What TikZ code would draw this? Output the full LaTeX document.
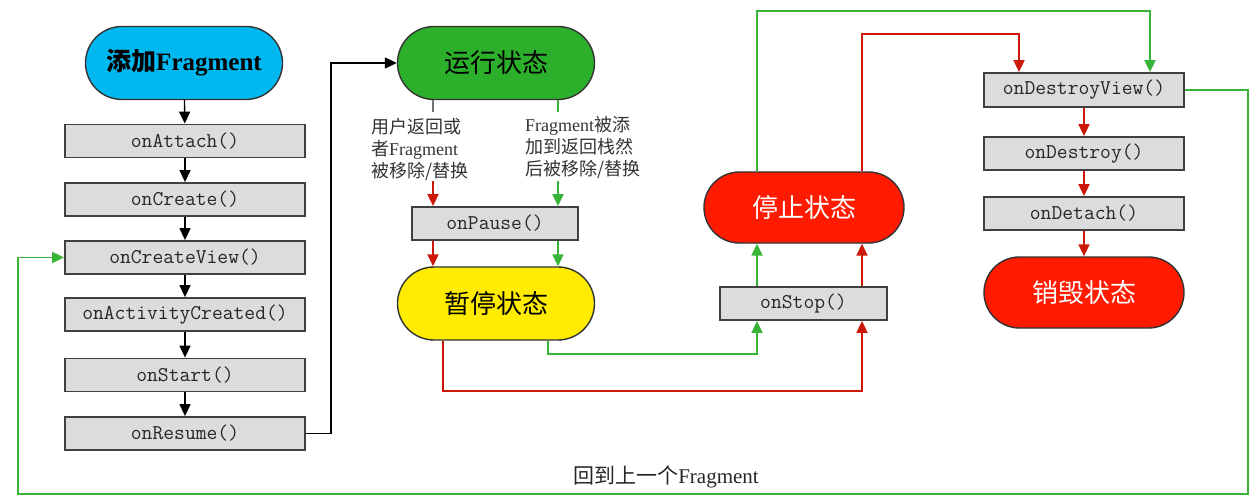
\documentclass[tikz,border=0pt]{standalone}
\usepackage{fontspec}
\setmainfont{Liberation Serif}
\newfontfamily\cjk{Noto Sans CJK SC}
\usetikzlibrary{arrows.meta,shapes.misc}

\definecolor{addblue}{RGB}{0,184,240}
\definecolor{rungreen}{RGB}{44,176,44}
\definecolor{pauseyellow}{RGB}{255,236,0}
\definecolor{stopred}{RGB}{255,26,0}
\definecolor{linered}{RGB}{204,24,8}
\definecolor{linegreen}{RGB}{56,180,56}
\definecolor{boxgray}{RGB}{220,220,220}

\tikzset{
  state/.style={rounded rectangle, draw=black!80, line width=1.4pt, minimum width=197pt, minimum height=73pt, inner sep=0pt, font=\fontsize{26}{30}\selectfont\cjk},
  method/.style={rectangle, draw=black!75, line width=1.8pt, fill=boxgray, minimum width=240pt, minimum height=33pt, inner sep=0pt, text=black!85, font=\ttfamily\fontsize{21}{24}\selectfont},
  note/.style={align=left, inner sep=0pt, text=black!80, font=\fontsize{18}{22}\selectfont},
  blackline/.style={draw=black, line width=1.4pt, ->},
  redline/.style={draw=linered, line width=1.9pt, ->},
  greenline/.style={draw=linegreen, line width=1.9pt, ->},
}

\begin{document}
\begin{tikzpicture}[x=1pt, y=-1pt, >={Triangle[length=12pt,width=11pt]}]
  \useasboundingbox (0,0) rectangle (1259,500);

  % adding the fragment
  \node[state, fill=addblue, font=\fontsize{25}{30}\selectfont\bfseries] (add) at (184,63) {{\cjk 添加}Fragment};
  \foreach \n/\y/\txt in {attach/141/onAttach(), create/199.5/onCreate(), createview/257.5/onCreateView(), activity/314.5/onActivityCreated(), start/375/onStart(), resume/433.5/onResume()}
    \node[method] (\n) at (185,\y) {\txt};
  \foreach \a/\b in {add/attach, attach/create, create/createview, createview/activity, activity/start, start/resume}
    \draw[blackline] (\a) -- (\b);

  % running and paused
  \node[state, fill=rungreen] (run) at (496,63) {运行状态};
  \node[method, minimum width=166pt] (pause) at (495,223.5) {onPause()};
  \node[state, fill=pauseyellow] (paused) at (496,303.5) {暂停状态};
  \draw[blackline] (resume.east) -- ++(25,0) |- (run.west);

  \node[note, anchor=north west] (leftnote) at (371,118) {{\cjk 用户返回或}\\{\cjk 者}Fragment\\{\cjk 被移除/替换}};
  \node[note, anchor=north west] (rightnote) at (525,116) {Fragment{\cjk 被添}\\{\cjk 加到返回栈然}\\{\cjk 后被移除/替换}};

  \draw[draw=black!55, line width=1.9pt] ([xshift=-63pt]run.south) -- ++(0,12);
  \draw[draw=linegreen, line width=1.9pt] ([xshift=62pt]run.south) -- ++(0,12);
  \draw[redline] ([xshift=-62pt]pause.north) ++(0,-25) -- ([xshift=-62pt]pause.north);
  \draw[greenline] ([xshift=63pt]pause.north) ++(0,-25) -- ([xshift=63pt]pause.north);
  \draw[redline] ([xshift=-62pt]pause.south) -- ([xshift=-62pt]pause.south |- paused.north);
  \draw[greenline] ([xshift=63pt]pause.south) -- ([xshift=63pt]pause.south |- paused.north);

  % stopped
  \node[method, minimum width=167pt] (stop) at (803.5,303.5) {onStop()};
  \node[state, fill=stopred, text=white, minimum width=200pt, minimum height=71pt] (stopped) at (804,207.5) {停止状态};
  \draw[redline] ([xshift=-53pt]paused.south) -- ++(0,50) -| ([xshift=58.5pt]stop.south);
  \draw[greenline] ([xshift=52pt]paused.south) -- ++(0,13) -| ([xshift=-46.5pt]stop.south);
  \draw[greenline] ([xshift=-46.5pt]stop.north) -- ([xshift=-46.5pt]stop.north |- stopped.south);
  \draw[redline] ([xshift=58.5pt]stop.north) -- ([xshift=58.5pt]stop.north |- stopped.south);

  % destroyed
  \node[method, minimum width=200pt, minimum height=34pt] (dview) at (1084,90) {onDestroyView()};
  \node[method, minimum width=200pt] (destroy) at (1084,153.5) {onDestroy()};
  \node[method, minimum width=200pt] (detach) at (1084,213.5) {onDetach()};
  \node[state, fill=stopred, text=white, minimum width=200pt, minimum height=71pt] (destroyed) at (1084,292.5) {销毁状态};
  \foreach \a/\b in {dview/destroy, destroy/detach, detach/destroyed}
    \draw[redline] (\a) -- (\b);
  \draw[greenline] ([xshift=-47pt]stopped.north) -- ++(0,-160) -| ([xshift=66pt]dview.north);
  \draw[redline] ([xshift=58pt]stopped.north) -- ++(0,-137) -| ([xshift=-65pt]dview.north);

  % back to the previous fragment
  \coordinate (backR) at (1248,494);
  \coordinate (backL) at (18,494);
  \draw[greenline] (dview.east) -| (backR) -- (backL) |- (createview.west);
  \node[note, font=\fontsize{21}{24}\selectfont, text=black!85] (backnote) at (666,477) {{\cjk 回到上一个}Fragment};
\end{tikzpicture}
\end{document}
